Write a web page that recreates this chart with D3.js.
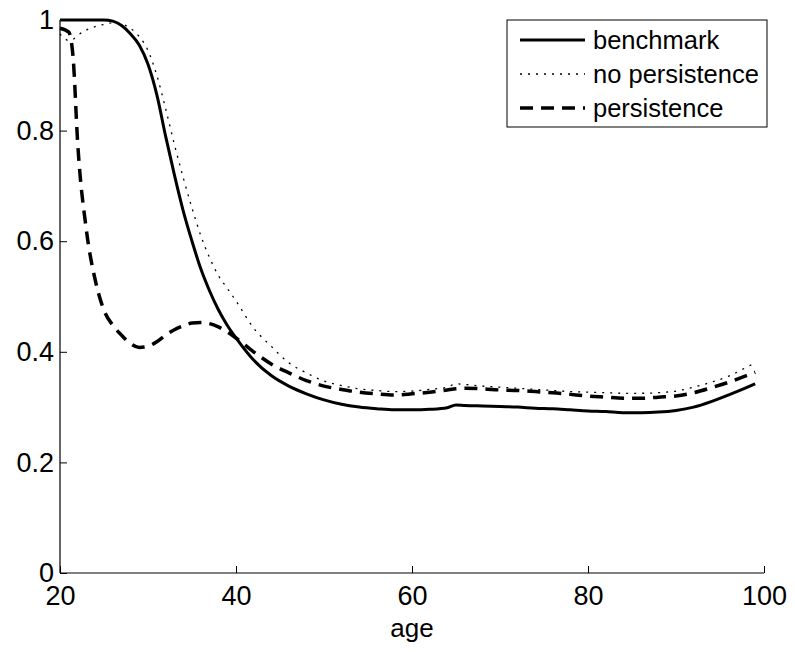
<!DOCTYPE html>
<html>
<head>
<meta charset="utf-8">
<script src="https://cdn.jsdelivr.net/npm/d3@7"></script>
<style>
  body { margin: 0; background: #fff; }
  text { font-family: "Liberation Sans", Arial, sans-serif; fill: #000; }
</style>
</head>
<body>
<div id="chart"></div>
<script>
// Data
const ages = [20, 21, 21.5, 22, 23, 24, 25, 26, 27, 28, 29, 30, 31, 32, 33, 34, 35, 36, 37, 38, 39, 40,
    42, 44, 46, 48, 50, 52, 54, 56, 58, 60, 62, 64, 65, 66, 68, 70, 72, 74, 76, 78, 80,
    82, 84, 86, 88, 90, 92, 94, 96, 98, 99];
const benchmark = [1.0, 1.0, 1.0, 1.0, 1.0, 1.0, 1.0, 0.998, 0.99, 0.975, 0.955, 0.92, 0.865, 0.79, 0.72, 0.655, 0.6, 0.55, 0.51, 0.476, 0.448, 0.425,
    0.385, 0.357, 0.338, 0.324, 0.313, 0.305, 0.3, 0.297, 0.295, 0.295, 0.296, 0.299, 0.304, 0.303, 0.302, 0.301, 0.3, 0.298, 0.297, 0.295, 0.293,
    0.292, 0.29, 0.29, 0.291, 0.294, 0.3, 0.31, 0.322, 0.335, 0.342];
const noPersistence = [0.975, 0.963, 0.965, 0.972, 0.982, 0.988, 0.992, 0.995, 0.993, 0.985, 0.97, 0.945, 0.9, 0.84, 0.775, 0.715, 0.66, 0.61, 0.57, 0.538, 0.515, 0.492,
    0.443, 0.41, 0.38, 0.362, 0.347, 0.339, 0.333, 0.33, 0.328, 0.329, 0.332, 0.336, 0.342, 0.341, 0.338, 0.336, 0.334, 0.332, 0.33, 0.328, 0.327,
    0.326, 0.325, 0.325, 0.326, 0.329, 0.336, 0.345, 0.356, 0.372, 0.38];
const persistence = [0.985, 0.978, 0.93, 0.78, 0.62, 0.53, 0.475, 0.448, 0.43, 0.415, 0.408, 0.41, 0.418, 0.43, 0.44, 0.447, 0.452, 0.453, 0.451, 0.445, 0.436, 0.425,
    0.4, 0.378, 0.362, 0.348, 0.338, 0.332, 0.327, 0.324, 0.322, 0.324, 0.327, 0.331, 0.333, 0.334, 0.333, 0.331, 0.33, 0.328, 0.326, 0.323, 0.32,
    0.318, 0.316, 0.316, 0.318, 0.32, 0.326, 0.335, 0.345, 0.357, 0.363];

const xTicks = [20, 40, 60, 80, 100];
const yTicks = [0, 0.2, 0.4, 0.6, 0.8, 1];

const seriesList = [
    { label: "benchmark", values: benchmark, width: 3, dash: null },
    { label: "no persistence", values: noPersistence, width: 1.3, dash: "2,6" },
    { label: "persistence", values: persistence, width: 3.5, dash: "13,8" }
];

const width = 795, height = 652;
const margin = { top: 20, right: 31, bottom: 79, left: 60 };

const svg = d3.select("#chart")
    .append("svg")
    .attr("width", width)
    .attr("height", height);

const xScale = d3.scaleLinear().domain([20, 100]).range([margin.left, width - margin.right]);
const yScale = d3.scaleLinear().domain([0, 1]).range([height - margin.bottom, margin.top]);

// Axes (ticks point inward, no box)
const xAxis = svg.append("g")
    .attr("transform", `translate(0,${height - margin.bottom})`)
    .call(d3.axisBottom(xScale).tickValues(xTicks).tickSize(-7).tickPadding(13).tickFormat(d3.format("d")));
xAxis.select(".domain").attr("d", `M${xScale(20)},0H${xScale(100)}`).attr("stroke-width", 1.2);
xAxis.selectAll("text").style("font-size", "27px").attr("font-family", null);

const yAxis = svg.append("g")
    .attr("transform", `translate(${margin.left},0)`)
    .call(d3.axisLeft(yScale).tickValues(yTicks).tickSize(-7).tickPadding(6).tickFormat(d => d3.format("")(d)));
yAxis.select(".domain").attr("d", `M0,${yScale(0)}V${yScale(1)}`).attr("stroke-width", 1.2);
yAxis.selectAll("text").style("font-size", "27px").attr("font-family", null);
svg.selectAll(".tick line").attr("stroke-width", 1);

svg.append("text")
    .attr("x", (xScale(20) + xScale(100)) / 2)
    .attr("y", 637)
    .attr("text-anchor", "middle")
    .style("font-size", "26px")
    .text("age");

// Lines
const line = d3.line()
    .x((d, i) => xScale(ages[i]))
    .y(d => yScale(d))
    .curve(d3.curveMonotoneX);

seriesList.forEach(s => {
    svg.append("path")
        .datum(s.values)
        .attr("fill", "none")
        .attr("stroke", "#000")
        .attr("stroke-width", s.width)
        .attr("stroke-dasharray", s.dash)
        .attr("d", line);
});

// Legend
const legend = svg.append("g").attr("transform", "translate(507,20)");
legend.append("rect")
    .attr("width", 260)
    .attr("height", 107)
    .attr("fill", "#fff")
    .attr("stroke", "#000")
    .attr("stroke-width", 1);

seriesList.forEach((s, i) => {
    const y = 20 + i * 34;
    legend.append("line")
        .attr("x1", 13).attr("x2", 78)
        .attr("y1", y).attr("y2", y)
        .attr("stroke", "#000")
        .attr("stroke-width", s.width)
        .attr("stroke-dasharray", s.dash);
    legend.append("text")
        .attr("x", 86)
        .attr("y", y + 9)
        .style("font-size", "25.5px")
        .text(s.label);
});
</script>
</body>
</html>
